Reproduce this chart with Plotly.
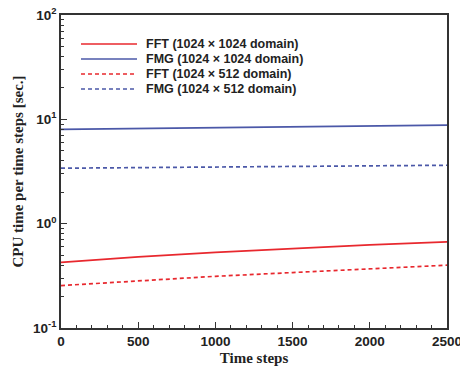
import plotly.graph_objects as go

steps = [0, 500, 1000, 1500, 2000, 2500]
fft_1024x1024 = [0.426, 0.48, 0.53, 0.58, 0.625, 0.67]
fmg_1024x1024 = [8.0, 8.15, 8.3, 8.45, 8.62, 8.8]
fft_1024x512 = [0.255, 0.284, 0.313, 0.34, 0.37, 0.40]
fmg_1024x512 = [3.40, 3.45, 3.50, 3.54, 3.59, 3.63]

names = ["FFT (1024 \u00d7 1024 domain)", "FMG (1024 \u00d7 1024 domain)",
         "FFT (1024 \u00d7 512 domain)", "FMG (1024 \u00d7 512 domain)"]
series = [fft_1024x1024, fmg_1024x1024, fft_1024x512, fmg_1024x512]
colors = ["#e8282e", "#4b58a8", "#e8282e", "#4b58a8"]
dashes = ["solid", "solid", "4px,3px", "4px,3px"]

ytickvals = [0.1, 1, 10, 100]
yticktext = ["10<sup>-1</sup>", "10<sup>0</sup>", "10<sup>1</sup>", "10<sup>2</sup>"]
xtickvals = [0, 500, 1000, 1500, 2000, 2500]

fig = go.Figure()
for n, s, c, d in zip(names, series, colors, dashes):
    fig.add_trace(go.Scatter(x=steps, y=s, mode="lines", name=n,
                             line=dict(color=c, width=1.7, dash=d),
                             showlegend=False, cliponaxis=True))

# manual legend (plot area: 386 x 313 px)
ly0 = (328 - 44) / 313
dy = 15 / 313
for i, (n, c, d) in enumerate(zip(names, colors, dashes)):
    yy = ly0 - i * dy
    fig.add_shape(type="line", xref="paper", yref="paper",
                  x0=20 / 386, x1=76 / 386, y0=yy, y1=yy,
                  line=dict(color=c, width=1.7, dash=d))
    fig.add_annotation(xref="paper", yref="paper", x=84 / 386, y=yy,
                       text=n, showarrow=False, xanchor="left", yanchor="middle",
                       borderpad=0,
                       font=dict(family="Liberation Sans, Arial", size=12.5,
                                 color="#222", weight="bold"))

axis_font = dict(family="Liberation Sans, Arial", size=13.5, color="#222", weight="bold")
title_font = dict(family="Liberation Serif, Times New Roman", size=15, color="#222", weight="bold")

fig.update_xaxes(range=[0, 2500], tickvals=xtickvals, ticks="inside", ticklen=6,
                 tickwidth=1.3, tickcolor="#333", showline=True, linecolor="#333",
                 linewidth=1.6, mirror=True, showgrid=False, zeroline=False,
                 tickfont=axis_font, automargin=False, ticklabeloverflow="allow",
                 minor=dict(ticks="inside", ticklen=3, tickcolor="#333", dtick=100, tick0=0),
                 title=dict(text="Time steps", font=title_font, standoff=4))
fig.update_yaxes(type="log", range=[-1, 2], tickvals=ytickvals, ticktext=yticktext,
                 ticks="inside", ticklen=6, tickwidth=1.3, tickcolor="#333",
                 showline=True, linecolor="#333", linewidth=1.6, mirror=True,
                 showgrid=False, zeroline=False, tickfont=axis_font, automargin=False,
                 ticklabeloverflow="allow",
                 minor=dict(ticks="inside", ticklen=3, tickcolor="#333",
                            tickvals=[a * b for b in [0.1, 1, 10] for a in range(2, 10)]),
                 title=dict(text="CPU time per time steps [sec.]", font=title_font, standoff=6))

fig.update_layout(width=460, height=369, margin=dict(l=61, r=13, t=15, b=41),
                  plot_bgcolor="white", paper_bgcolor="white")
# remove the default 8px page margin so the figure fills the window
fig.write_html("out.html", config={"displayModeBar": False},
               post_script="document.body.style.margin='0px';document.body.style.overflow='hidden';")
